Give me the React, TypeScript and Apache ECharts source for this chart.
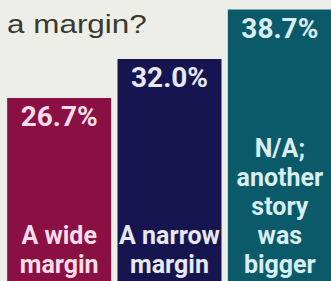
import React, { useEffect, useRef } from "react";
import * as echarts from "echarts";

const categories = ["A wide\nmargin", "A narrow\nmargin", "N/A;\nanother\nstory\nwas\nbigger"];
const values = [26.7, 32.0, 38.7];
const barColors = ["#8a1043", "#16154f", "#0b5a6a"];
const labelColors = ["#f6dde8", "#e8e8f4", "#d8eef0"];
const titleText = "a margin?";

export default function App() {
  const ref = useRef<HTMLDivElement>(null);
  useEffect(() => {
    const chart = echarts.init(ref.current!, undefined, { renderer: "svg" });
    chart.setOption({
      animation: false,
      backgroundColor: "#eeeee9",
      grid: { left: 4, right: 0, top: 0, bottom: 0.5 },
      xAxis: {
        type: "category",
        data: categories,
        show: false,
      },
      yAxis: { type: "value", min: 0, max: 40, show: false },
      graphic: [
        {
          type: "text",
          x: 7,
          y: 23.5,
          scaleX: 1.21,
          style: {
            text: titleText,
            x: 0,
            y: 0,
            fill: "#3a3a31",
            font: "26px 'Liberation Sans', Arial, sans-serif",
            verticalAlign: "middle",
          },
        },
      ],
      series: [
        {
          type: "bar",
          barWidth: 104,
          barGap: "-100%",
          data: values.map((v, i) => ({
            value: v,
            itemStyle: { color: barColors[i] },
            label: { color: labelColors[i] },
          })),
          label: {
            show: true,
            position: "insideTop",
            distance: 5,
            fontFamily: "Roboto, sans-serif",
            fontWeight: "bold",
            fontSize: 28,
            formatter: (p: any) => p.value.toFixed(1) + "%",
          },
        },
        {
          type: "bar",
          barWidth: 104,
          barGap: "-100%",
          silent: true,
          itemStyle: { color: "rgba(0,0,0,0)" },
          data: values.map((v, i) => ({
            value: v,
            label: { color: labelColors[i] },
          })),
          label: {
            show: true,
            position: "insideBottom",
            distance: 16,
            fontFamily: "Roboto, sans-serif",
            fontWeight: "bold",
            fontSize: 25,
            lineHeight: 29,
            formatter: (p: any) => categories[p.dataIndex],
          },
        },
      ],
    });
    return () => chart.dispose();
  }, []);
  return (
    <div
      ref={ref}
      style={{ position: "fixed", left: 0, top: 0, width: 335, height: 295 }}
    />
  );
}
